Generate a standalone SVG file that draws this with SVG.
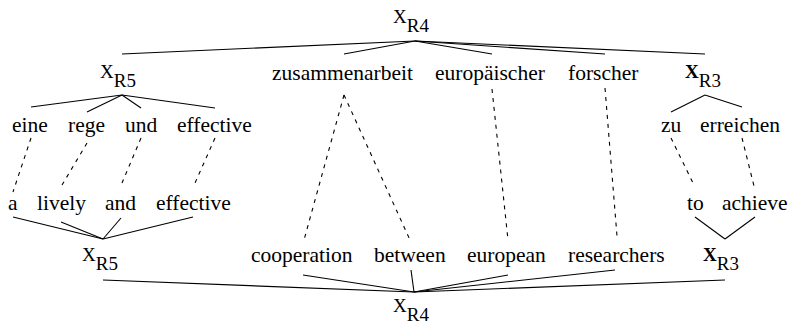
<svg xmlns="http://www.w3.org/2000/svg" width="792" height="326" viewBox="0 0 792 326">
<style>
text{font-family:"Liberation Serif","Times New Roman",serif;fill:#000}
.w{font-size:21.5px}
.x{font-size:19px}
.b{font-weight:bold}
.s{font-size:19px}
.solid line{stroke:#000;stroke-width:1.1;fill:none}
.dash line{stroke:#000;stroke-width:1.1;stroke-dasharray:4,5;fill:none}
</style>
<rect width="792" height="326" fill="#fff"/>
<g id="top-XR4"><text class="x" x="393" y="23">X<tspan class="s" dy="9">R4</tspan></text></g>
<g id="top-XR5"><text class="x" x="100" y="78">X<tspan class="s" dy="9">R5</tspan></text></g>
<g id="zusammenarbeit"><text class="w" x="272" y="80">zusammenarbeit</text></g>
<g id="europaeischer"><text class="w" x="435" y="80">europäischer</text></g>
<g id="forscher"><text class="w" x="568" y="80">forscher</text></g>
<g id="top-XR3"><text class="x" x="685" y="78"><tspan class="b">X</tspan><tspan class="s" dy="9">R3</tspan></text></g>
<g id="eine"><text class="w" x="12" y="132">eine</text></g>
<g id="rege"><text class="w" x="68" y="132">rege</text></g>
<g id="und"><text class="w" x="125" y="132">und</text></g>
<g id="effective-de"><text class="w" x="177" y="132">effective</text></g>
<g id="zu"><text class="w" x="661" y="132">zu</text></g>
<g id="erreichen"><text class="w" x="700" y="132">erreichen</text></g>
<g id="a"><text class="w" x="8" y="210">a</text></g>
<g id="lively"><text class="w" x="37" y="210">lively</text></g>
<g id="and"><text class="w" x="105" y="210">and</text></g>
<g id="effective-en"><text class="w" x="156" y="210">effective</text></g>
<g id="to"><text class="w" x="687" y="210">to</text></g>
<g id="achieve"><text class="w" x="722" y="210">achieve</text></g>
<g id="bot-XR5"><text class="x" x="82" y="261">X<tspan class="s" dy="9">R5</tspan></text></g>
<g id="cooperation"><text class="w" x="251" y="262">cooperation</text></g>
<g id="between"><text class="w" x="374" y="262">between</text></g>
<g id="european"><text class="w" x="467" y="262">european</text></g>
<g id="researchers"><text class="w" x="568" y="262">researchers</text></g>
<g id="bot-XR3"><text class="x" x="703" y="261"><tspan class="b">X</tspan><tspan class="s" dy="9">R3</tspan></text></g>
<g id="bot-XR4"><text class="x" x="393" y="312">X<tspan class="s" dy="9">R4</tspan></text></g>
<g id="connectors">
<g class="solid">
<line x1="415" y1="41" x2="122" y2="54"/>
<line x1="415" y1="41" x2="344" y2="54"/>
<line x1="415" y1="41" x2="492" y2="54"/>
<line x1="415" y1="41" x2="605" y2="54"/>
<line x1="415" y1="41" x2="705" y2="54"/>
<line x1="122" y1="95" x2="31" y2="107"/>
<line x1="122" y1="95" x2="87" y2="112"/>
<line x1="122" y1="95" x2="141" y2="108"/>
<line x1="122" y1="95" x2="215" y2="108"/>
<line x1="705" y1="95" x2="671" y2="112"/>
<line x1="705" y1="95" x2="742" y2="107"/>
<line x1="103" y1="239" x2="13" y2="217"/>
<line x1="103" y1="239" x2="61" y2="222"/>
<line x1="103" y1="239" x2="121" y2="218"/>
<line x1="103" y1="239" x2="193" y2="217"/>
<line x1="725" y1="239" x2="695" y2="217"/>
<line x1="725" y1="239" x2="755" y2="217"/>
<line x1="414" y1="292" x2="103" y2="280"/>
<line x1="414" y1="292" x2="303" y2="275"/>
<line x1="414" y1="292" x2="411" y2="270"/>
<line x1="414" y1="292" x2="508" y2="275"/>
<line x1="414" y1="292" x2="615" y2="270"/>
<line x1="414" y1="292" x2="725" y2="280"/>
</g>
<g class="dash">
<line x1="31" y1="138" x2="13" y2="192"/>
<line x1="87" y1="143" x2="62" y2="185"/>
<line x1="141" y1="138" x2="122" y2="183"/>
<line x1="215" y1="138" x2="195" y2="183"/>
<line x1="344" y1="95" x2="304" y2="240"/>
<line x1="344" y1="95" x2="410" y2="240"/>
<line x1="492" y1="89" x2="508" y2="240"/>
<line x1="605" y1="88" x2="617" y2="236"/>
<line x1="671" y1="138" x2="694" y2="185"/>
<line x1="742" y1="138" x2="754" y2="186"/>
</g>
</g>
</svg>
